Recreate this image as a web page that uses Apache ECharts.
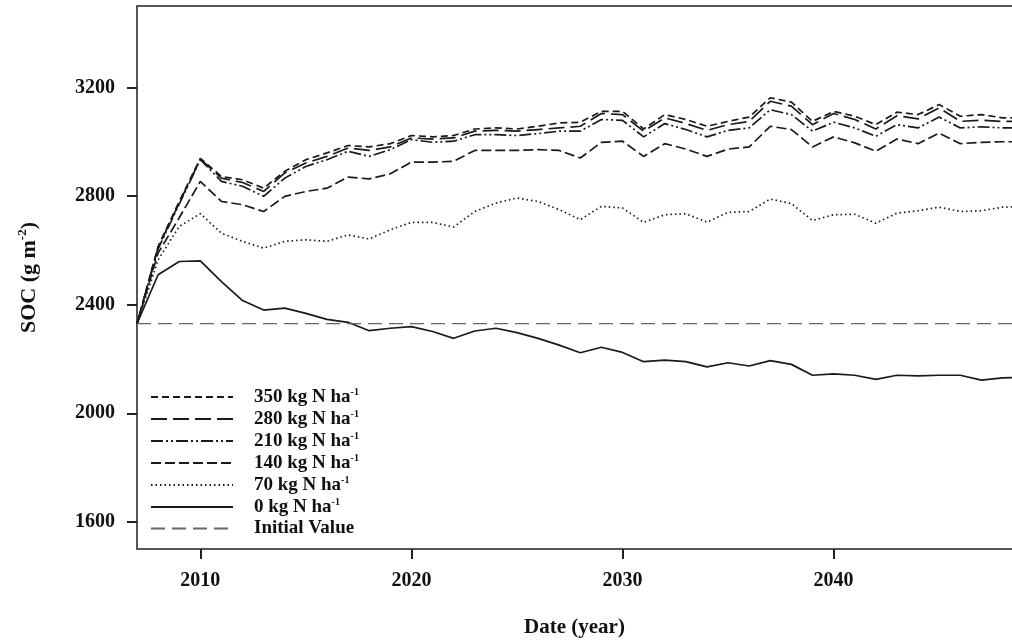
<!DOCTYPE html>
<html>
<head>
<meta charset="utf-8">
<script src="https://cdn.jsdelivr.net/npm/echarts@6/dist/echarts.min.js"></script>
<style>html,body{margin:0;padding:0;background:#fff}#c{width:1012px;height:643px}</style>
</head>
<body>
<div id="c"></div>
<script>
const years = [];
for (let y = 2007; y <= 2049; y++) years.push(y);
const xTicks = [2010, 2020, 2030, 2040];
const yTicks = [1600, 2000, 2400, 2800, 3200];
const initialValue = 2330;
const s350 = [2330,2615,2780,2939,2872,2860,2829,2891,2934,2959,2986,2981,2993,3023,3018,3023,3047,3051,3047,3057,3069,3072,3112,3112,3047,3100,3082,3057,3075,3091,3162,3146,3075,3112,3094,3063,3109,3100,3137,3094,3100,3088,3088];
const s280 = [2330,2610,2775,2936,2866,2850,2817,2885,2922,2946,2977,2968,2981,3014,3010,3014,3039,3042,3039,3045,3051,3057,3104,3100,3039,3088,3067,3042,3063,3075,3149,3131,3063,3104,3082,3047,3096,3084,3125,3075,3079,3075,3075];
const s210 = [2330,2605,2770,2934,2854,2836,2799,2866,2909,2934,2965,2946,2971,3008,2998,3002,3026,3026,3023,3030,3039,3039,3082,3079,3018,3067,3045,3018,3042,3051,3118,3100,3039,3072,3051,3020,3063,3051,3091,3051,3055,3051,3051];
const s140 = [2330,2590,2720,2854,2780,2768,2743,2799,2817,2829,2870,2863,2882,2925,2925,2928,2968,2968,2968,2971,2968,2940,2998,3002,2946,2993,2973,2946,2973,2981,3057,3045,2981,3018,2996,2965,3010,2993,3032,2993,2998,3000,3000];
const s70 = [2330,2565,2688,2735,2663,2633,2608,2633,2639,2633,2657,2642,2676,2703,2703,2686,2743,2774,2793,2780,2750,2713,2762,2756,2703,2731,2735,2704,2740,2743,2789,2772,2710,2731,2733,2700,2737,2746,2759,2743,2746,2759,2762];
const s0 = [2330,2510,2559,2561,2485,2415,2380,2387,2368,2346,2335,2304,2313,2319,2301,2276,2303,2313,2297,2276,2251,2223,2243,2224,2190,2196,2190,2171,2186,2174,2194,2180,2140,2145,2140,2125,2140,2138,2140,2140,2122,2130,2132];
const seriesNames = ['350 kg N ha', '280 kg N ha', '210 kg N ha', '140 kg N ha', '70 kg N ha', '0 kg N ha', 'Initial Value'];

const FONT = "'Liberation Serif','Times New Roman',serif";
const INK = '#1a1a1a';
const pairs = arr => arr.map((v, i) => [years[i], v]);
const mk = (name, arr, dash, color, width) => ({
  name, type: 'line', data: pairs(arr), symbol: 'none', showSymbol: false, clip: true,
  lineStyle: { color: color || INK, width: width || 1.7, type: dash },
  itemStyle: { color: color || INK },
  animation: false, silent: true
});
const initX = [2007, 2050];
const X_MIN = 2007, X_MAX = 2048.45;

const chart = echarts.init(document.getElementById('c'), null, { renderer: 'canvas' });
chart.setOption({
  backgroundColor: '#fff',
  animation: false,
  grid: { left: 137, top: 6, right: 0, bottom: 94, show: false },
  legend: {
    orient: 'vertical', left: 150, top: 387, padding: 0,
    itemWidth: 82, itemHeight: 18, itemGap: 2.5,
    data: seriesNames,
    itemStyle: { opacity: 0, color: 'transparent', borderWidth: 0 },
    formatter: n => n === 'Initial Value' ? '{t|Initial Value}' : '{t|' + n + '}{s|-1}',
    textStyle: {
      padding: [0, 0, 0, 16],
      rich: {
        t: { fontFamily: FONT, fontWeight: 'bold', fontSize: 19, color: '#111', lineHeight: 20 },
        s: { fontFamily: FONT, fontWeight: 'bold', fontSize: 10, color: '#111', verticalAlign: 'top', lineHeight: 20, padding: [0, 0, 6, 0] }
      }
    }
  },
  xAxis: [{
    type: 'value', min: X_MIN, max: X_MAX,
    name: 'Date (year)', nameLocation: 'middle', nameGap: 68,
    nameTextStyle: { fontFamily: FONT, fontWeight: 'bold', fontSize: 21, color: '#111' },
    axisLine: { show: true, lineStyle: { color: '#555', width: 2 } },
    axisTick: { show: true, inside: false, length: 10, lineStyle: { color: '#222', width: 2 }, customValues: xTicks },
    axisLabel: { customValues: xTicks, margin: 22, fontFamily: FONT, fontWeight: 'bold', fontSize: 20, color: '#111', formatter: v => String(v) },
    splitLine: { show: false }
  }, {
    type: 'value', min: X_MIN, max: X_MAX, position: 'top',
    axisLine: { show: true, onZero: false, lineStyle: { color: '#555', width: 2 } },
    axisTick: { show: false }, axisLabel: { show: false }, splitLine: { show: false }
  }],
  yAxis: {
    type: 'value', min: 1500, max: 3500,
    name: '{t|SOC (g m}{s|-2}{t|)}', nameLocation: 'middle', nameGap: 95, nameRotate: 90,
    nameTextStyle: {
      rich: {
        t: { fontFamily: FONT, fontWeight: 'bold', fontSize: 22, color: '#111', lineHeight: 26 },
        s: { fontFamily: FONT, fontWeight: 'bold', fontSize: 13, color: '#111', verticalAlign: 'top', lineHeight: 26, padding: [0, 0, 8, 0] }
      }
    },
    axisLine: { show: true, onZero: false, lineStyle: { color: '#555', width: 2 } },
    axisTick: { show: true, inside: false, length: 10, lineStyle: { color: '#222', width: 2 }, customValues: yTicks },
    axisLabel: { customValues: yTicks, margin: 22, fontFamily: FONT, fontWeight: 'bold', fontSize: 20, color: '#111', formatter: v => String(v) },
    splitLine: { show: false }
  },
  series: [
    mk(seriesNames[0], s350, [7, 4]),
    mk(seriesNames[1], s280, [16, 6]),
    mk(seriesNames[2], s210, [12, 3, 2, 3, 2, 3]),
    mk(seriesNames[3], s140, [10, 4]),
    mk(seriesNames[4], s70, [1.5, 3]),
    mk(seriesNames[5], s0, 'solid'),
    {
      name: seriesNames[6], type: 'line', symbol: 'none', showSymbol: false, clip: true,
      data: initX.map(x => [x, initialValue]),
      lineStyle: { color: '#666', width: 1.4, type: [14, 7] },
      itemStyle: { color: '#666' }, animation: false, silent: true
    }
  ]
});
</script>
</body>
</html>
